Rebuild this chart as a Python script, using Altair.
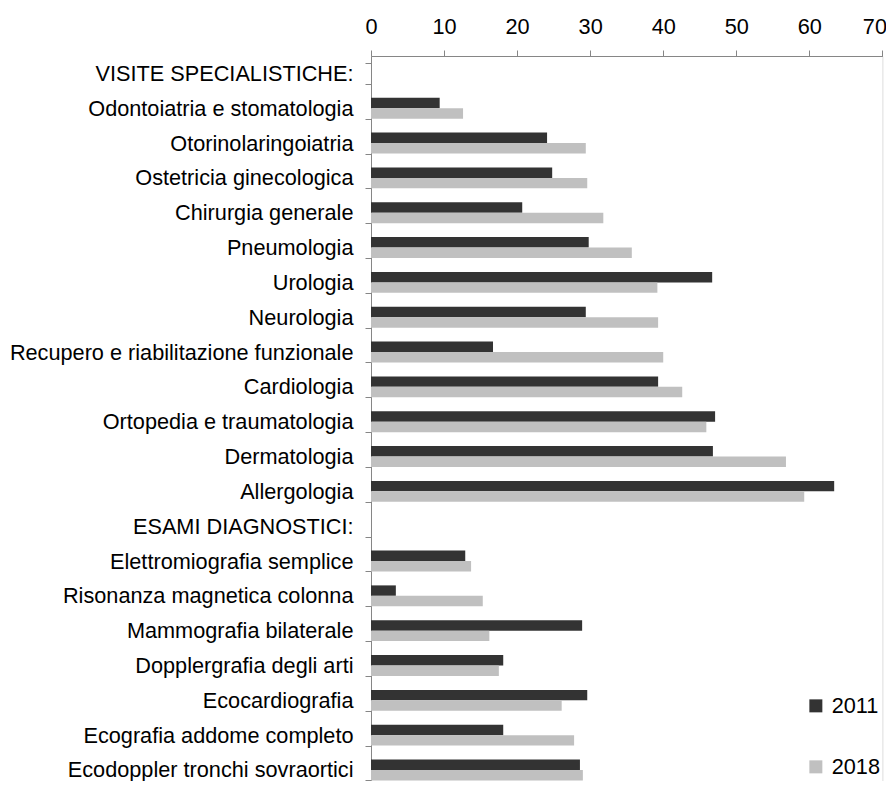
import altair as alt
import pandas as pd

categories = [
    "VISITE SPECIALISTICHE:",
    "Odontoiatria e stomatologia",
    "Otorinolaringoiatria",
    "Ostetricia ginecologica",
    "Chirurgia generale",
    "Pneumologia",
    "Urologia",
    "Neurologia",
    "Recupero e riabilitazione funzionale",
    "Cardiologia",
    "Ortopedia e traumatologia",
    "Dermatologia",
    "Allergologia",
    "ESAMI DIAGNOSTICI:",
    "Elettromiografia semplice",
    "Risonanza magnetica colonna",
    "Mammografia bilaterale",
    "Dopplergrafia degli arti",
    "Ecocardiografia",
    "Ecografia addome completo",
    "Ecodoppler tronchi sovraortici",
]

values_2011 = [None, 9.4, 24.1, 24.8, 20.7, 29.8, 46.7, 29.4, 16.7, 39.3, 47.1, 46.8, 63.4,
               None, 12.9, 3.4, 28.9, 18.1, 29.6, 18.1, 28.6]
values_2018 = [None, 12.6, 29.4, 29.6, 31.8, 35.7, 39.2, 39.3, 40.0, 42.6, 45.9, 56.8, 59.3,
               None, 13.7, 15.3, 16.2, 17.5, 26.1, 27.8, 29.0]

years = ["2011", "2018"]
colors = ["#333333", "#c0c0c0"]
x_ticks = [0, 10, 20, 30, 40, 50, 60, 70]

rows = []
for cat, v1, v2 in zip(categories, values_2011, values_2018):
    if v1 is not None:
        rows.append({"cat": cat, "year": "2011", "value": v1})
    if v2 is not None:
        rows.append({"cat": cat, "year": "2018", "value": v2})
df = pd.DataFrame(rows)

FONT = "Liberation Sans"
FS = 21.7

chart = (
    alt.Chart(df)
    .mark_bar()
    .encode(
        x=alt.X(
            "value:Q",
            scale=alt.Scale(domain=[0, 70], nice=False, zero=True),
            axis=alt.Axis(
                orient="top",
                values=x_ticks,
                title=None,
                grid=False,
                tickSize=6,
                labelPadding=12,
                labelFontSize=FS,
                labelFont=FONT,
                labelColor="#000000",
                domainColor="#868686",
                tickColor="#868686",
                labelFlush=False,
                labelOverlap=False,
                labelOffset={"condition": {"test": "datum.value == 70", "value": -8}, "value": 0},
            ),
        ),
        y=alt.Y(
            "cat:N",
            sort=categories,
            scale=alt.Scale(
                domain=categories,
                paddingInner=0.4,
                paddingOuter=0.2,
                range=[0, 731.4],
            ),
            axis=alt.Axis(
                title=None,
                tickBand="extent",
                tickSize=6,
                labelPadding=12,
                labelFontSize=FS,
                labelFont=FONT,
                labelColor="#000000",
                labelLimit=0,
                domainColor="#868686",
                tickColor="#868686",
            ),
        ),
        yOffset=alt.YOffset(
            "year:N",
            sort=years,
            scale=alt.Scale(domain=years, paddingInner=0, paddingOuter=0),
        ),
        color=alt.Color(
            "year:N",
            scale=alt.Scale(domain=years, range=colors),
            legend=alt.Legend(
                title=None,
                orient="none",
                legendX=434,
                legendY=639,
                symbolType="square",
                symbolSize=169,
                symbolStrokeWidth=0,
                labelFontSize=FS,
                labelFont=FONT,
                labelColor="#000000",
                labelOffset=5,
                rowPadding=38,
                padding=0,
            ),
        ),
    )
    .properties(
        width=511.4,
        height=725,
        autosize=alt.AutoSizeParams(type="none"),
        padding={"left": 363, "top": 48, "right": 3.6, "bottom": 0},
    )
    .configure_view(stroke=None)
    .configure(background="#ffffff")
)

chart.save("out.html", embed_options={"renderer": "svg", "actions": False})
